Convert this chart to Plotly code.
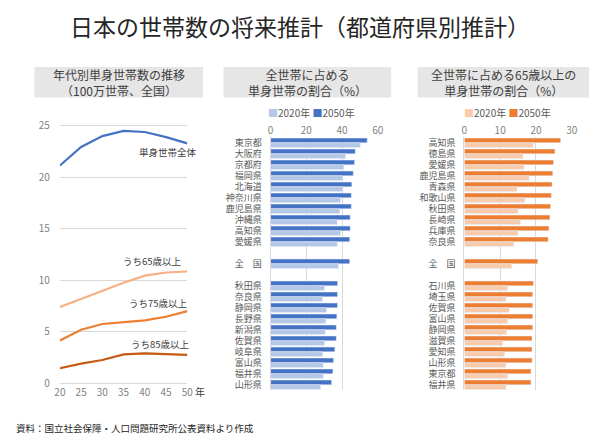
import plotly.graph_objects as go

# ---- data ----
years = [20, 25, 30, 35, 40, 45, 50]
single_total = [21.15, 22.95, 24.0, 24.5, 24.4, 23.9, 23.3]
single_65 = [7.4, 8.2, 9.0, 9.75, 10.45, 10.75, 10.85]
single_75 = [4.15, 5.2, 5.75, 5.95, 6.1, 6.45, 7.0]
single_85 = [1.45, 1.9, 2.25, 2.8, 2.9, 2.8, 2.75]

# share of single households (%)
share_top = ["東京都", "大阪府", "京都府", "福岡県", "北海道", "神奈川県", "鹿児島県", "沖縄県", "高知県", "愛媛県"]
share_top_2020 = [50.2, 41.9, 41.0, 40.4, 40.4, 39.2, 38.8, 37.3, 39.2, 37.3]
share_top_2050 = [54.1, 47.4, 47.0, 46.3, 45.5, 45.2, 45.2, 44.6, 44.6, 44.3]
share_nat_2020 = 38.0
share_nat_2050 = 44.3
share_bottom = ["秋田県", "奈良県", "静岡県", "長野県", "新潟県", "佐賀県", "岐阜県", "富山県", "福井県", "山形県"]
share_bottom_2020 = [30.2, 29.1, 31.3, 30.9, 30.6, 30.2, 29.1, 29.5, 29.5, 28.0]
share_bottom_2050 = [37.5, 37.5, 37.5, 37.1, 36.8, 36.8, 36.0, 35.3, 34.9, 34.2]

# share of 65+ single households (%)
old_top = ["高知県", "徳島県", "愛媛県", "鹿児島県", "青森県", "和歌山県", "秋田県", "長崎県", "兵庫県", "奈良県"]
old_top_2020 = [19.2, 16.4, 16.7, 18.1, 14.7, 16.9, 15.0, 15.7, 15.0, 13.8]
old_top_2050 = [26.9, 25.3, 24.9, 24.7, 24.5, 24.3, 24.1, 23.9, 23.6, 23.4]
old_nat_2020 = 13.2
old_nat_2050 = 20.5
old_bottom = ["石川県", "埼玉県", "佐賀県", "富山県", "静岡県", "滋賀県", "愛知県", "山形県", "東京都", "福井県"]
old_bottom_2020 = [12.1, 11.6, 12.5, 12.1, 11.8, 10.7, 11.2, 11.6, 12.1, 11.6]
old_bottom_2050 = [19.3, 19.1, 19.1, 19.1, 19.1, 18.9, 18.9, 18.9, 18.6, 18.6]

NATIONAL = "全　国"


def rows(top, nat, bottom):
    # blank spacer rows around the national row
    return list(top) + [None] + [nat] + [None] + list(bottom)


share_labels = share_top + [" ", NATIONAL, "  "] + share_bottom
old_labels = old_top + [" ", NATIONAL, "  "] + old_bottom

FONT = "Noto Sans CJK JP"
GRID = "#D9D9D9"
TICK = "#7F7F7F"

fig = go.Figure()

# left: line chart
line_series = [
    (single_total, "#4472C4"),
    (single_65, "#F4B183"),
    (single_75, "#ED7D31"),
    (single_85, "#C55A11"),
]
for vals, col in line_series:
    fig.add_trace(go.Scatter(x=years, y=vals, mode="lines", line=dict(color=col, width=2.2),
                             showlegend=False, xaxis="x", yaxis="y"))

# middle: single household share (2050 drawn above 2020 in each row)
fig.add_trace(go.Bar(y=share_labels, x=rows(share_top_2050, share_nat_2050, share_bottom_2050),
                     orientation="h", name="2050年", marker_color="#4472C4", showlegend=False,
                     xaxis="x2", yaxis="y2"))
fig.add_trace(go.Bar(y=share_labels, x=rows(share_top_2020, share_nat_2020, share_bottom_2020),
                     orientation="h", name="2020年", marker_color="#B4C7E7", showlegend=False,
                     xaxis="x2", yaxis="y2"))

# right: 65+ single household share
fig.add_trace(go.Bar(y=old_labels, x=rows(old_top_2050, old_nat_2050, old_bottom_2050),
                     orientation="h", name="2050年", marker_color="#ED7D31", showlegend=False,
                     xaxis="x3", yaxis="y3"))
fig.add_trace(go.Bar(y=old_labels, x=rows(old_top_2020, old_nat_2020, old_bottom_2020),
                     orientation="h", name="2020年", marker_color="#F8CBAD", showlegend=False,
                     xaxis="x3", yaxis="y3"))


def px(v):
    return v / 600


def py(v):
    return (445 - v) / 445


bar_ydomain = [py(395.5), py(138.5)]
tickfont = dict(family=FONT, size=10, color=TICK)
labfont = dict(family=FONT, size=9, color="#595959")

fig.update_layout(
    width=600, height=445,
    margin=dict(l=0, r=0, t=0, b=0),
    paper_bgcolor="white", plot_bgcolor="white",
    font=dict(family=FONT, color="#404040"),
    barmode="group", bargap=0.14, bargroupgap=0,
    showlegend=False,
    title=dict(text="日本の世帯数の将来推計（都道府県別推計）", x=0.5, xanchor="center",
               y=py(28), yanchor="middle", font=dict(family=FONT, size=23, color="#262626")),
    xaxis=dict(domain=[px(55), px(185)], range=[20, 50], tickvals=years, showgrid=False,
               showline=True, linecolor=GRID, ticks="", tickfont=tickfont, zeroline=False),
    yaxis=dict(domain=[py(388.3), py(105.9)], range=[0, 27], tickvals=[0, 5, 10, 15, 20, 25],
               gridcolor=GRID, showline=False, ticks="", tickfont=tickfont, zeroline=False,
               ticklabelstandoff=9),
    xaxis2=dict(domain=[px(270), px(379.3)], range=[0, 60], tickvals=[0, 20, 40, 60], side="top",
                anchor="y2", gridcolor=GRID, ticks="", tickfont=tickfont, zeroline=False),
    yaxis2=dict(domain=bar_ydomain, anchor="x2", autorange="reversed", categoryorder="array",
                categoryarray=share_labels, tickmode="array", tickvals=share_labels,
                showline=True, linecolor=GRID, ticks="", tickfont=labfont, ticklabelstandoff=6),
    xaxis3=dict(domain=[px(467.7), px(577.3)], range=[0, 30], tickvals=[0, 10, 20, 30], side="top",
                anchor="y3", gridcolor=GRID, ticks="", tickfont=tickfont, zeroline=False),
    yaxis3=dict(domain=bar_ydomain, anchor="x3", autorange="reversed", categoryorder="array",
                categoryarray=old_labels, tickmode="array", tickvals=old_labels,
                showline=True, linecolor=GRID, ticks="", tickfont=labfont, ticklabelstandoff=6),
)

# legends drawn as text keys above each bar panel
legend_keys = [
    (312, "#B4C7E7", "#4472C4"),
    (512, "#F8CBAD", "#ED7D31"),
]
for cx, c2020, c2050 in legend_keys:
    fig.add_annotation(
        xref="paper", yref="paper", x=px(cx), y=py(113), showarrow=False,
        xanchor="center", yanchor="middle",
        text=(f"<span style='color:{c2020}'>■</span>2020年 "
              f"<span style='color:{c2050}'>■</span>2050年"),
        font=dict(family=FONT, size=10, color="#595959"))

# panel header boxes
headers = [
    (29, 201, "年代別単身世帯数の推移<br>（100万世帯、全国）"),
    (222, 393, "全世帯に占める<br>単身世帯の割合（%）"),
    (420, 595, "全世帯に占める65歳以上の<br>単身世帯の割合（%）"),
]
for x0, x1, txt in headers:
    fig.add_shape(type="rect", xref="paper", yref="paper", x0=px(x0), x1=px(x1),
                  y0=py(98), y1=py(67), fillcolor="#E7E6E6", line_width=0, layer="below")
    fig.add_annotation(xref="paper", yref="paper", x=px((x0 + x1) / 2), y=py(82.5),
                       text=txt, showarrow=False, xanchor="center", yanchor="middle",
                       font=dict(family=FONT, size=12, color="#404040"))

# line labels
line_labels = [
    (45.4, 22.5, "単身世帯全体"),
    (41.9, 11.9, "うち65歳以上"),
    (43.1, 7.8, "うち75歳以上"),
    (43.8, 3.8, "うち85歳以上"),
]
for lx, ly, txt in line_labels:
    fig.add_annotation(xref="x", yref="y", x=lx, y=ly, text=txt, showarrow=False,
                       font=dict(family=FONT, size=9.5, color="#404040"))

fig.add_annotation(xref="paper", yref="paper", x=px(191), y=py(397), text="年", showarrow=False,
                   xanchor="left", yanchor="middle", font=dict(family=FONT, size=10, color="#404040"))
fig.add_annotation(xref="paper", yref="paper", x=px(8), y=py(434),
                   text="資料：国立社会保障・人口問題研究所公表資料より作成", showarrow=False,
                   xanchor="left", yanchor="middle", font=dict(family=FONT, size=9.5, color="#262626"))

# drop the browser's default body margin so the 600x445 figure fills the window
fig.write_html("out.html", config={"displayModeBar": False},
               post_script="document.body.style.margin='0';")
